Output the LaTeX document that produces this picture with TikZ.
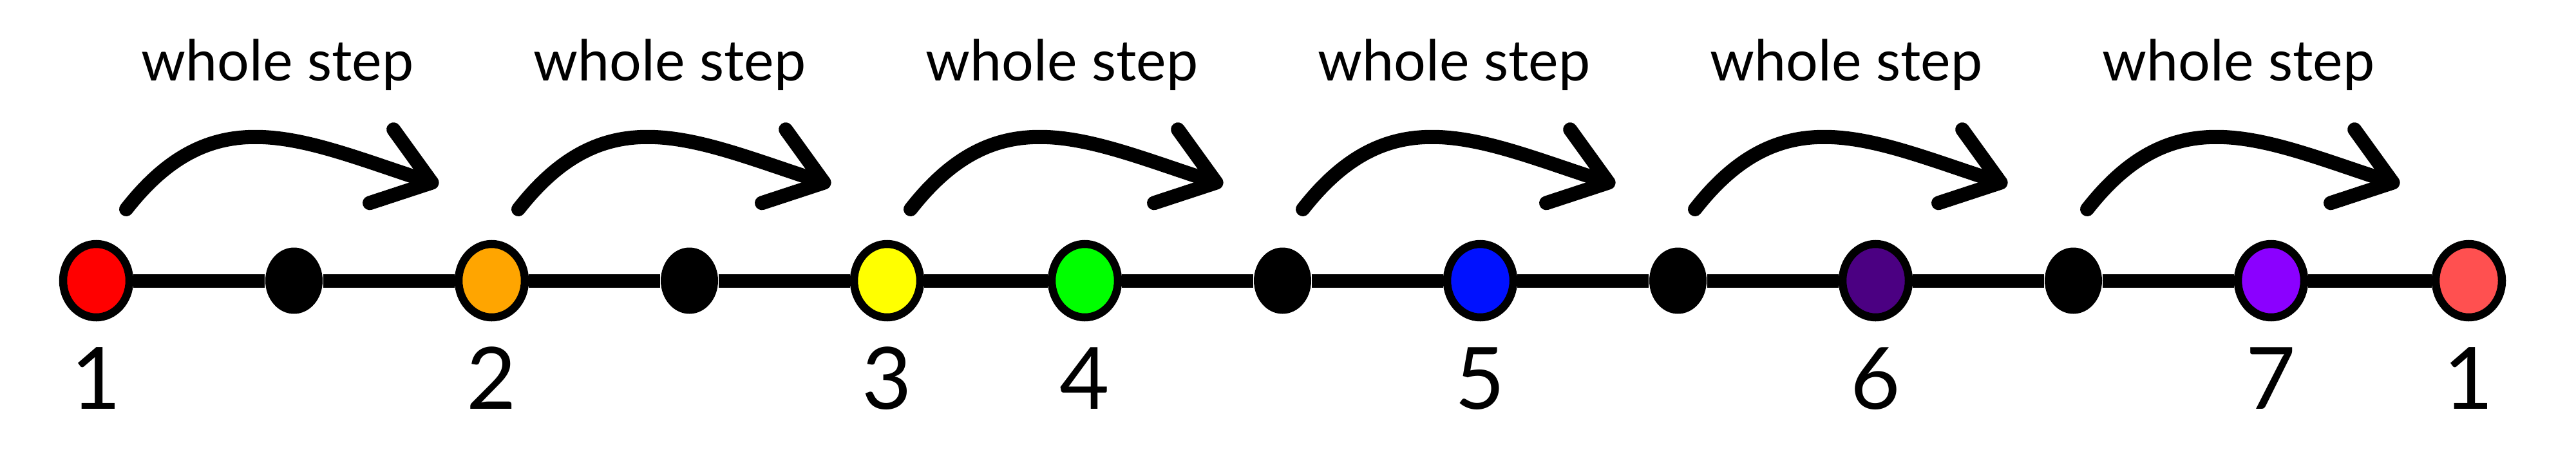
\documentclass[tikz,border=0pt]{standalone}
\usepackage{fontspec}
\setmainfont{Lato}
\usetikzlibrary{shapes.geometric,arrows.meta}
\definecolor{cred}{HTML}{FF0000}
\definecolor{corange}{HTML}{FFA500}
\definecolor{cyellow}{HTML}{FFFF00}
\definecolor{cgreen}{HTML}{00FF00}
\definecolor{cblue}{HTML}{0011FF}
\definecolor{cindigo}{HTML}{4B0082}
\definecolor{cviolet}{HTML}{8B00FF}
\definecolor{clightred}{HTML}{FF5050}
\begin{document}
\begin{tikzpicture}[x=1cm,y=1cm,
  colnode/.style={ellipse, draw=black, line width=0.125cm, fill=#1,
    minimum width=1.03cm, minimum height=1.14cm, inner sep=0pt},
  blackdot/.style={ellipse, fill=black, minimum width=0.89cm,
    minimum height=1.03cm, inner sep=0pt},
  mainline/.style={line width=0.21cm},
  numlabel/.style={anchor=base, font=\fontsize{38}{40}\selectfont},
  steplabel/.style={anchor=base, font=\fontsize{25}{28}\selectfont},
  arcline/.style={line width=0.22cm, line cap=round,
    -{Straight Barb[length=0.82cm,width=1.2cm,round]}}
]
\useasboundingbox (0,0) rectangle (40,7.12);
% nodes on the line
\node[colnode=cred]      (n0)  at (1.495,2.76) {};
\node[blackdot]          (n1)  at (4.565,2.76) {};
\node[colnode=corange]   (n2)  at (7.635,2.76) {};
\node[blackdot]          (n3)  at (10.705,2.76) {};
\node[colnode=cyellow]   (n4)  at (13.775,2.76) {};
\node[colnode=cgreen]    (n5)  at (16.845,2.76) {};
\node[blackdot]          (n6)  at (19.915,2.76) {};
\node[colnode=cblue]     (n7)  at (22.985,2.76) {};
\node[blackdot]          (n8)  at (26.055,2.76) {};
\node[colnode=cindigo]   (n9)  at (29.125,2.76) {};
\node[blackdot]          (n10) at (32.195,2.76) {};
\node[colnode=cviolet]   (n11) at (35.265,2.76) {};
\node[colnode=clightred] (n12) at (38.335,2.76) {};
% line segments
\foreach \a/\b in {0/1,1/2,2/3,3/4,4/5,5/6,6/7,7/8,8/9,9/10,10/11,11/12}
  \draw[mainline] (n\a) -- (n\b);
% degree numbers
\node[numlabel] (d1) at (1.495,0.77) {1};
\node[numlabel] (d2) at (7.635,0.77) {2};
\node[numlabel] (d3) at (13.775,0.77) {3};
\node[numlabel] (d4) at (16.845,0.77) {4};
\node[numlabel] (d5) at (22.985,0.77) {5};
\node[numlabel] (d6) at (29.125,0.77) {6};
\node[numlabel] (d7) at (35.265,0.77) {7};
\node[numlabel] (d8) at (38.335,0.77) {1};
% whole step arcs
\foreach \k in {0,...,5}{
  \coordinate (s\k) at ({1.96+6.09*\k},3.87);
  \coordinate (t\k) at ({6.81+6.09*\k},4.25);
  \draw[arcline] (s\k) to[out=52,in=162,looseness=1.18] (t\k);
  \node[steplabel] (w\k) at ({4.31+6.09*\k},5.87) {whole step};
}
\end{tikzpicture}
\end{document}
